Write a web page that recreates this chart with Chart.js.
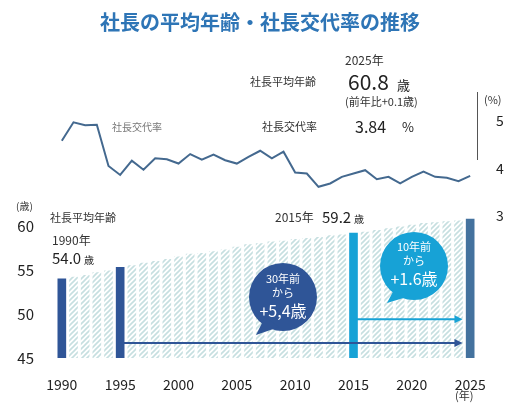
<!DOCTYPE html>
<html><head><meta charset="utf-8">
<script src="https://cdn.jsdelivr.net/npm/chart.js@4"></script>
<style>body{margin:0;background:#fff}#w{position:relative;width:521px;height:412px}</style>
</head><body><div id="w"><canvas id="c" width="521" height="412"></canvas></div>
<script>
const years = [];
for (let y = 1990; y <= 2025; y++) years.push(String(y));
const avgAge = [54.0,54.2,54.4,54.7,54.9,55.3,55.5,55.8,56.0,56.2,56.5,56.8,56.9,57.1,57.3,57.6,57.9,58.0,58.2,58.3,58.5,58.6,58.7,58.9,59.0,59.2,59.3,59.5,59.7,59.9,60.1,60.3,60.4,60.5,60.6,60.8];
const turnoverRate = [4.58,4.97,4.91,4.92,4.05,3.86,4.16,3.97,4.21,4.19,4.10,4.30,4.18,4.29,4.17,4.10,4.24,4.37,4.21,4.35,3.91,3.89,3.61,3.68,3.82,3.89,3.96,3.77,3.82,3.68,3.82,3.93,3.82,3.80,3.73,3.84];
const leftTicks = [45,50,55,60];
const rightTicks = [3,4,5];
const xTickYears = ['1990','1995','2000','2005','2010','2015','2020','2025'];

const F = '"Noto Sans CJK JP","Noto Sans",sans-serif';
const pc = document.createElement('canvas'); pc.width = 5; pc.height = 5;
const px = pc.getContext('2d');
px.fillStyle = '#ffffff'; px.fillRect(0,0,5,5);
px.strokeStyle = '#c6dfe0'; px.lineWidth = 1.6;
px.beginPath(); px.moveTo(-1,6); px.lineTo(6,-1); px.moveTo(-1,1); px.lineTo(1,-1); px.moveTo(4,6); px.lineTo(6,4); px.stroke();
const hatch = document.createElement('canvas').getContext('2d').createPattern(pc,'repeat');
const barColors = years.map(y => y==='1990'||y==='1995' ? '#2f5597' : y==='2015' ? '#17a2d6' : y==='2025' ? '#44729e' : hatch);

const anno = {
  id:'anno',
  afterDraw(ch){
    const c = ch.ctx, x = ch.scales.x, yl = ch.scales.yL;
    c.save();
    c.textBaseline='middle';
    c.fillStyle = '#2e75b6'; c.font = 'bold 20px '+F; c.textAlign='center';
    c.fillText('社長の平均年齢・社長交代率の推移', 260, 22);
    const t = (s,xx,yy,size,col,al,w) => { c.font=(w||'')+' '+size+'px '+F; c.fillStyle=col; c.textAlign=al||'left'; c.fillText(s,xx,yy); };
    t('2025年',345,60,12,'#333');
    t('社長平均年齢',250,82,11,'#333');
    t('60.8',348,82,21,'#222'); t('歳',397,85,13,'#222');
    t('(前年比+0.1歳)',345,102,11,'#333');
    t('社長交代率',262,127,11,'#333');
    t('3.84',355,127,16,'#222'); t('%',402,127,13,'#222');
    t('社長交代率',112,127,10,'#777');
    c.strokeStyle='#555'; c.lineWidth=1; c.beginPath(); c.moveTo(477.5,92); c.lineTo(477.5,160); c.stroke();
    t('(%)',484,100,11,'#333');
    t('(歳)',16,206,10,'#333');
    t('(年)',455,396,11,'#333');
    t('社長平均年齢',50,218,11,'#333');
    t('1990年',52,240,12,'#333');
    t('54.0',52,258,15,'#222'); t('歳',84,260,10,'#222');
    t('2015年',275,217,12,'#333'); t('59.2',322,217,15,'#222'); t('歳',354,219,10,'#222');
    const arr = (x0,x1,yy,col) => { c.strokeStyle=col; c.fillStyle=col; c.lineWidth=2; c.beginPath(); c.moveTo(x0,yy); c.lineTo(x1-6,yy); c.stroke();
      c.beginPath(); c.moveTo(x1,yy); c.lineTo(x1-8,yy-4); c.lineTo(x1-8,yy+4); c.closePath(); c.fill(); };
    arr(x.getPixelForValue(5), x.getPixelForValue(34)+4, yl.getPixelForValue(46.7), '#2f5597');
    arr(x.getPixelForValue(25), x.getPixelForValue(34)+4, yl.getPixelForValue(49.4), '#17a2d6');
    const bub = (cx,cy,r,col,tx,ty,lines) => { c.fillStyle=col; c.beginPath(); c.arc(cx,cy,r,0,Math.PI*2); c.fill();
      c.beginPath(); c.moveTo(cx-18,cy+20); c.lineTo(tx,ty); c.lineTo(cx-4,cy+30); c.closePath(); c.fill();
      c.fillStyle='#fff'; c.textAlign='center';
      lines.forEach(l=>{ c.font=l[2]+'px '+F; c.fillText(l[0],cx,cy+l[1]); }); };
    bub(283,297,34,'#2f5597',256,335,[['30年前',-18,11],['から',-4,11],['+5,4歳',14,16]]);
    bub(414,266,34,'#17a2d6',387,303,[['10年前',-19,11],['から',-5,11],['+1.6歳',13,16]]);
    c.restore();
  }
};

new Chart(document.getElementById('c'), {
  data:{ labels: years, datasets:[
    { type:'line', data: turnoverRate, yAxisID:'yR', borderColor:'#44698f', borderWidth:2, pointRadius:0, tension:0, order:0 },
    { type:'bar', data: avgAge, yAxisID:'yL', backgroundColor: barColors, barThickness:8, order:1 }
  ]},
  options:{ responsive:false, animation:false, events:[],
    layout:{ padding:{ left:0, right:0, top:100, bottom:0 } },
    plugins:{ legend:{display:false}, tooltip:{enabled:false} },
    scales:{
      x:{ offset:true, grid:{display:false}, border:{display:false},
        afterFit(s){ s.height = 54; },
        ticks:{ autoSkip:false, maxRotation:0, color:'#222', font:{size:14, family:F}, padding:10,
          callback(v){ const l=this.getLabelForValue(v); return xTickYears.includes(l)?l:''; } } },
      yL:{ position:'left', min:45, max:74.32, grid:{display:false}, border:{display:false},
        afterFit(s){ s.width = 56; },
        afterBuildTicks(s){ s.ticks = leftTicks.map(v=>({value:v})); },
        ticks:{ color:'#222', font:{size:15, family:F}, padding:14 } },
      yR:{ position:'right', min:0, max:5.44, grid:{display:false}, border:{display:false},
        afterFit(s){ s.width = 45; },
        afterBuildTicks(s){ s.ticks = rightTicks.map(v=>({value:v})); },
        ticks:{ color:'#222', font:{size:14, family:F}, padding:12 } }
    }
  },
  plugins:[anno]
});
</script></body></html>
